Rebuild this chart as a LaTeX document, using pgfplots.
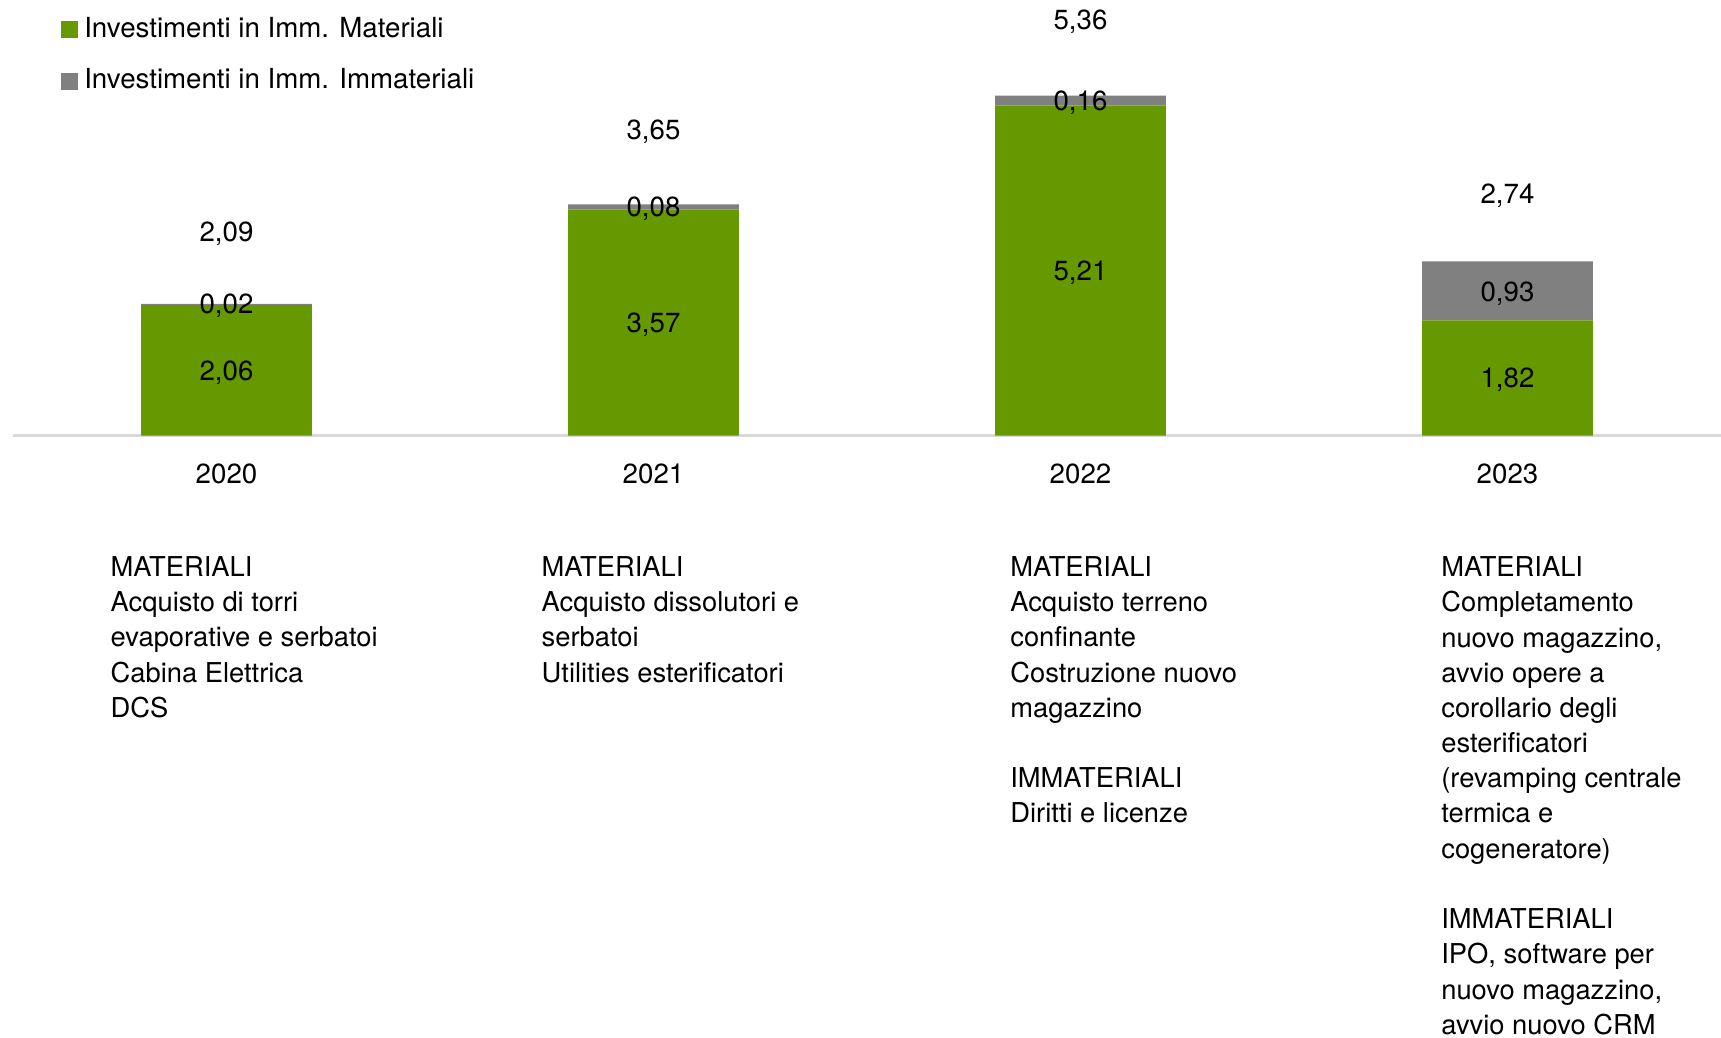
\documentclass[border=0pt]{standalone}
\usepackage{pgfplots}
\pgfplotsset{compat=1.18}
\usepackage{fontspec}
\setmainfont{TeX Gyre Heros}
\definecolor{matgreen}{HTML}{669900}
\definecolor{immgray}{HTML}{808080}
\definecolor{axisgray}{HTML}{D9D9D9}
\newcommand\lab{\fontsize{8.3}{10}\selectfont}
\newcommand\desc{\fontsize{8.2}{10.56}\selectfont}

% both axes share the same frame (1px = 0.3pt)
\pgfplotsset{
  frame/.style={
    at={(3.9pt,180.45pt)}, anchor=south west,
    scale only axis, width=512.4pt, height=130.65pt,
    xmin=-0.5, xmax=3.5, ymin=0, ymax=6.88,
    clip=false,
  },
}

\begin{document}
\begin{tikzpicture}
\path[use as bounding box] (0,0) rectangle (516.3pt,311.1pt);

\begin{axis}[frame,
  ybar stacked, bar width=0.4,
  axis x line*=bottom, axis y line=none,
  x axis line style={draw=axisgray, line width=0.7pt, -},
  xtick={0,1,2,3}, xticklabels={2020,2021,2022,2023},
  major tick length=0pt,
  xticklabel style={anchor=center, yshift=-11.55pt, font=\lab},
  ytick=\empty,
  legend cell align=left,
  legend style={at={(0.0275,0.978)}, anchor=north west, draw=none, fill=none,
    inner sep=0pt, font=\lab, row sep=4pt},
  legend image code/.code={\fill[#1] (0pt,-2.55pt) rectangle (5.1pt,2.55pt);},
]
\addplot[fill=matgreen, draw=none] coordinates {(0,2.06) (1,3.57) (2,5.21) (3,1.82)};
\addplot[fill=immgray, draw=none] coordinates {(0,0.02) (1,0.08) (2,0.16) (3,0.93)};
\legend{Investimenti in Imm. Materiali, Investimenti in Imm. Immateriali}
\end{axis}

% value labels
\begin{axis}[frame, hide axis,
  nodes near coords, point meta=explicit symbolic,
  every node near coord/.style={anchor=center, font=\lab, text=black, inner sep=0pt},
]
\addplot[only marks, mark=*, mark size=0pt, mark options={draw=none, fill=none}]
  table[meta=label] {
x y label
0 0.995 2,06
0 2.045 0,02
1 1.745 3,57
1 3.575 0,08
2 2.575 5,21
2 5.255 0,16
3 0.875 1,82
3 2.245 0,93
0 3.195 2,09
1 4.795 3,65
2 6.54 5,36
3 3.785 2,74
};
\end{axis}

\node[anchor=north west, inner sep=0pt, align=left, font=\desc] at (33pt,144.3pt)
  {MATERIALI\\Acquisto di torri\\evaporative e serbatoi\\Cabina Elettrica\\DCS};
\node[anchor=north west, inner sep=0pt, align=left, font=\desc] at (162.3pt,144.3pt)
  {MATERIALI\\Acquisto dissolutori e\\serbatoi\\Utilities esterificatori};
\node[anchor=north west, inner sep=0pt, align=left, font=\desc] at (302.9pt,144.3pt)
  {MATERIALI\\Acquisto terreno\\confinante\\Costruzione nuovo\\magazzino\\[10.56pt]IMMATERIALI\\Diritti e licenze};
\node[anchor=north west, inner sep=0pt, align=left, font=\desc] at (432.2pt,144.3pt)
  {MATERIALI\\Completamento\\nuovo magazzino,\\avvio opere a\\corollario degli\\esterificatori\\(revamping centrale\\termica e\\cogeneratore)\\[10.56pt]IMMATERIALI\\IPO, software per\\nuovo magazzino,\\avvio nuovo CRM};
\end{tikzpicture}
\end{document}
